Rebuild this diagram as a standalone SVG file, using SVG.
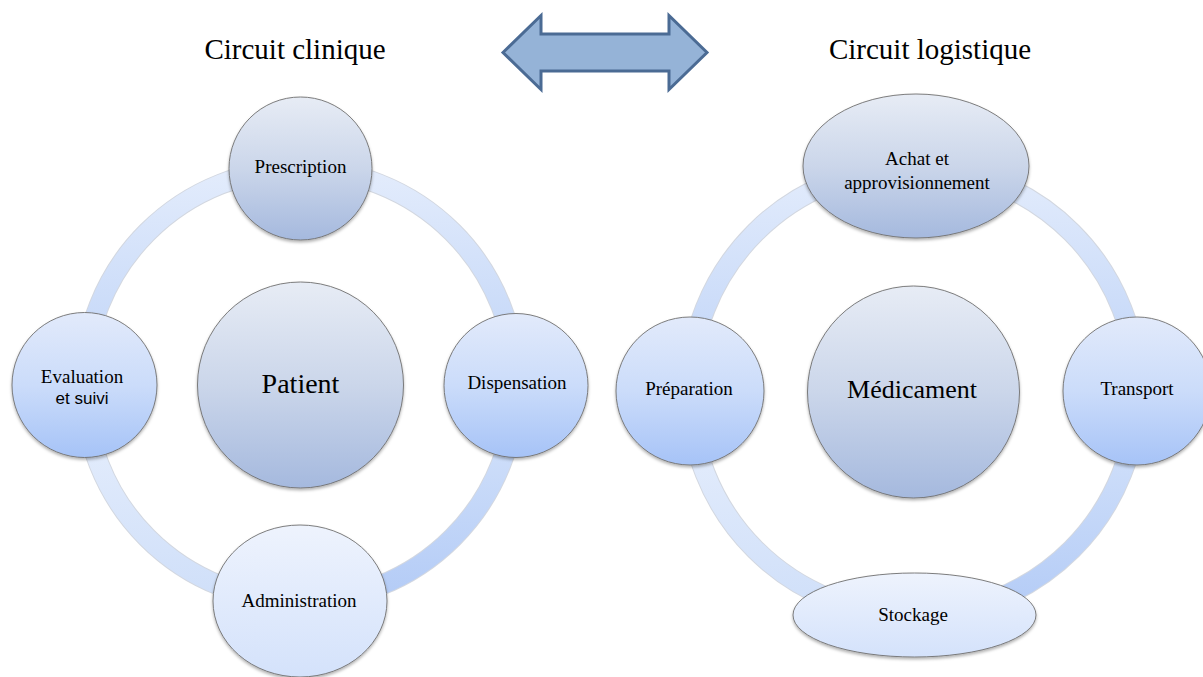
<svg xmlns="http://www.w3.org/2000/svg" width="1203" height="677" viewBox="0 0 1203 677">
<defs>
<linearGradient id="gGray" x1="0" y1="0" x2="0" y2="1"><stop offset="0" stop-color="#e7ecf5"/><stop offset="0.5" stop-color="#cbd6ea"/><stop offset="1" stop-color="#a5b9de"/></linearGradient>
<linearGradient id="gBlue" x1="0" y1="0" x2="0" y2="1"><stop offset="0" stop-color="#e2eafb"/><stop offset="0.5" stop-color="#cbdcfa"/><stop offset="1" stop-color="#a6c3f7"/></linearGradient>
<linearGradient id="gLight" x1="0" y1="0" x2="0" y2="1"><stop offset="0" stop-color="#eef3fd"/><stop offset="1" stop-color="#d4e2fb"/></linearGradient>
<linearGradient id="rTop" x1="0" y1="0" x2="0" y2="1"><stop offset="0" stop-color="#e3ecfc"/><stop offset="1" stop-color="#bed3f7"/></linearGradient>
<linearGradient id="rBR" x1="0" y1="0" x2="0" y2="1"><stop offset="0" stop-color="#d9e6fb"/><stop offset="1" stop-color="#b3cbf6"/></linearGradient>
<linearGradient id="rBL" x1="0" y1="0" x2="0" y2="1"><stop offset="0" stop-color="#e9f0fd"/><stop offset="1" stop-color="#cfdff9"/></linearGradient>
<filter id="sh" x="-20%" y="-20%" width="140%" height="150%"><feDropShadow dx="0" dy="2" stdDeviation="1.6" flood-color="#000" flood-opacity="0.3"/></filter>
</defs>
<style>
.node{stroke:#6f6f6f;stroke-width:0.9;filter:url(#sh)}
.edge{fill:none;stroke:#b4bdcc;stroke-width:21;stroke-opacity:0.6}
.ring{fill:none;stroke-width:19}
.t{font-family:"Liberation Serif","Times New Roman",serif;font-size:19px;fill:#000;text-anchor:middle}
.big{font-size:28px}
.title{font-family:"Liberation Serif","Times New Roman",serif;font-size:29px;fill:#000;text-anchor:middle}
.sans{font-family:"Liberation Sans",Arial,sans-serif;font-size:17px;fill:#000;text-anchor:middle}
</style>
<rect width="1203" height="677" fill="#ffffff"/>
<g id="titles">
<text class="title" x="295" y="59">Circuit clinique</text>
<text class="title" x="930" y="59">Circuit logistique</text>
</g>
<g id="double-arrow">
<path d="M503,52.5 L541,15.5 L541,34 L669,34 L669,15.5 L707,52.5 L669,89.5 L669,71 L541,71 L541,89.5 Z" fill="#95b3d7" stroke="#4b6b94" stroke-width="3" stroke-linejoin="miter"/>
</g>
<g id="connectors">
<path class="edge" d="M84,385 A216,216 0 0 1 300,169"/>
<path class="edge" d="M300,169 A216,216 0 0 1 516,385"/>
<path class="edge" d="M516,385 A216,216 0 0 1 300,601"/>
<path class="edge" d="M300,601 A216,216 0 0 1 84,385"/>
<path class="ring" stroke="url(#rTop)" d="M84,385 A216,216 0 0 1 300,169"/>
<path class="ring" stroke="url(#rTop)" d="M300,169 A216,216 0 0 1 516,385"/>
<path class="ring" stroke="url(#rBR)" d="M516,385 A216,216 0 0 1 300,601"/>
<path class="ring" stroke="url(#rBL)" d="M300,601 A216,216 0 0 1 84,385"/>
<path class="edge" d="M689.5,391 A224,224 0 0 1 913.5,167"/>
<path class="edge" d="M913.5,167 A224,224 0 0 1 1137.5,391"/>
<path class="edge" d="M1137.5,391 A224,224 0 0 1 913.5,615"/>
<path class="edge" d="M913.5,615 A224,224 0 0 1 689.5,391"/>
<path class="ring" stroke="url(#rTop)" d="M689.5,391 A224,224 0 0 1 913.5,167"/>
<path class="ring" stroke="url(#rTop)" d="M913.5,167 A224,224 0 0 1 1137.5,391"/>
<path class="ring" stroke="url(#rBR)" d="M1137.5,391 A224,224 0 0 1 913.5,615"/>
<path class="ring" stroke="url(#rBL)" d="M913.5,615 A224,224 0 0 1 689.5,391"/>
</g>
<g id="patient">
<circle class="node" cx="300.5" cy="385" r="103" fill="url(#gGray)"/>
<text class="t big" x="300.5" y="393">Patient</text>
</g>
<g id="prescription">
<circle class="node" cx="300.5" cy="168.5" r="71.5" fill="url(#gGray)"/>
<text class="t" x="300.5" y="173">Prescription</text>
</g>
<g id="dispensation">
<circle class="node" cx="516" cy="385.5" r="72" fill="url(#gBlue)"/>
<text class="t" x="517" y="389">Dispensation</text>
</g>
<g id="administration">
<ellipse class="node" cx="300" cy="601" rx="87" ry="76" fill="url(#gLight)"/>
<text class="t" x="299" y="607">Administration</text>
</g>
<g id="evaluation">
<circle class="node" cx="84.5" cy="385" r="72.5" fill="url(#gBlue)"/>
<text class="t" x="82" y="383">Evaluation</text>
<text class="sans" x="82" y="404">et suivi</text>
</g>
<g id="medicament">
<circle class="node" cx="913.5" cy="392" r="106" fill="url(#gGray)"/>
<text class="t" style="font-size:26px" x="912" y="398">Médicament</text>
</g>
<g id="achat">
<ellipse class="node" cx="916" cy="166" rx="113" ry="72" fill="url(#gGray)"/>
<text class="t" x="917" y="165">Achat et</text>
<text class="t" x="917" y="189">approvisionnement</text>
</g>
<g id="preparation">
<circle class="node" cx="690" cy="391" r="74" fill="url(#gBlue)"/>
<text class="t" x="689" y="395">Préparation</text>
</g>
<g id="transport">
<circle class="node" cx="1137" cy="391" r="74" fill="url(#gBlue)"/>
<text class="t" x="1137" y="395">Transport</text>
</g>
<g id="stockage">
<ellipse class="node" cx="914.5" cy="615" rx="121.5" ry="42" fill="url(#gLight)"/>
<text class="t" x="913" y="621">Stockage</text>
</g>
</svg>
